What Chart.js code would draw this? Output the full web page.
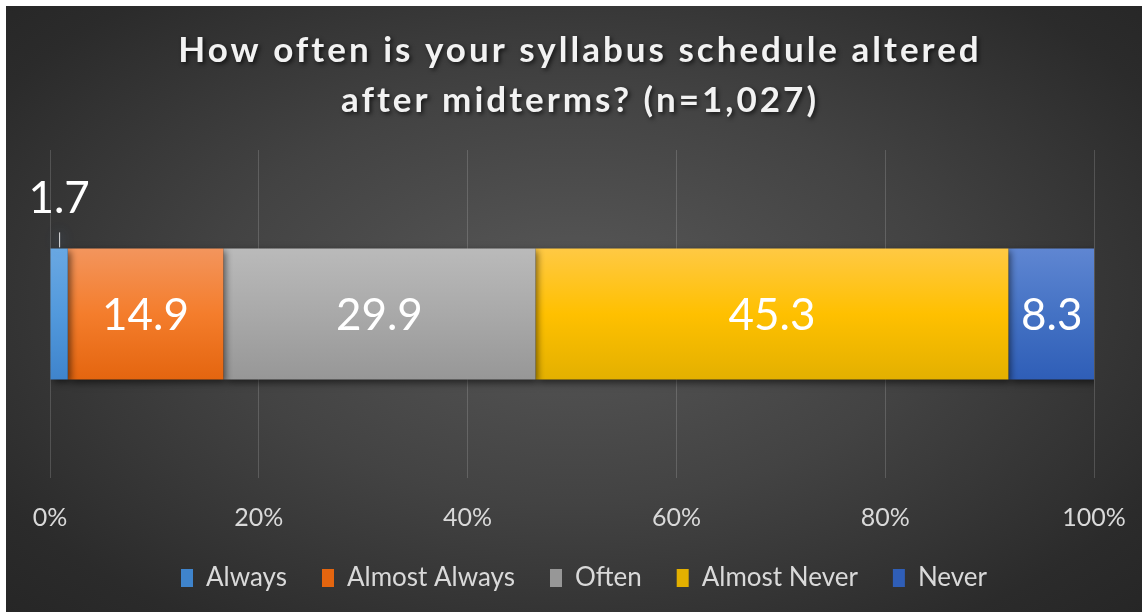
<!DOCTYPE html>
<html lang="en">
<head>
    <meta charset="UTF-8">
    <title>Syllabus Schedule</title>
    <script src="https://cdn.jsdelivr.net/npm/chart.js"></script>
    <style>
        html, body { margin: 0; padding: 0; background: #ffffff; }
        #wrap {
            position: absolute; left: 6px; top: 6px; width: 1136px; height: 606px;
            background: radial-gradient(ellipse 70% 75% at 50% 48%, #585858 0%, #434343 45%, #2b2b2b 85%, #262626 100%);
        }
    </style>
</head>
<body>
    <div id="wrap"><canvas id="chart" width="1136" height="606"></canvas></div>

    <script>
        // data
        const categories = ['All respondents'];
        const seriesNames = ['Always', 'Almost Always', 'Often', 'Almost Never', 'Never'];
        const seriesValues = [1.7, 14.9, 29.9, 45.3, 8.3];
        const titleLines = ['How often is your syllabus schedule altered', 'after midterms? (n=1,027)'];

        const FONT = 'Lato, "Open Sans", sans-serif';

        // top / middle / bottom shades for each segment
        const shades = [
            ['#6aa8e2', '#5299dc', '#3f84cc'],
            ['#f3955d', '#f47d2c', '#e4650f'],
            ['#bababa', '#a9a9a9', '#979797'],
            ['#ffc944', '#ffc000', '#e3b000'],
            ['#5f86d2', '#4472c4', '#2f5eb7']
        ];

        function barFill(i) {
            return (ctx) => {
                const chart = ctx.chart;
                const area = chart.chartArea;
                if (!area) return shades[i][1];
                const h = (area.bottom - area.top) * 0.4;
                const mid = (area.top + area.bottom) / 2;
                const g = chart.ctx.createLinearGradient(0, mid - h / 2, 0, mid + h / 2);
                g.addColorStop(0, shades[i][0]);
                g.addColorStop(0.5, shades[i][1]);
                g.addColorStop(1, shades[i][2]);
                return g;
            };
        }

        // spaced-out title with a soft shadow
        const spacedTitle = {
            id: 'spacedTitle',
            afterLayout(chart) {
                // legend sits a little right of centre in the original
                chart.legend.left += 12;
                chart.legend.right += 12;
            },
            afterDraw(chart) {
                const c = chart.ctx;
                c.save();
                c.font = 'bold 35px ' + FONT;
                c.letterSpacing = '3px';
                c.fillStyle = '#f2f2f2';
                c.textAlign = 'center';
                c.textBaseline = 'middle';
                c.shadowColor = 'rgba(0,0,0,0.65)';
                c.shadowBlur = 4;
                c.shadowOffsetX = 2;
                c.shadowOffsetY = 2;
                titleLines.forEach((line, k) => {
                    c.fillText(line, 574, 45 + k * 50);
                });
                c.restore();
            }
        };

        const barLook = {
            id: 'barLook',
            beforeDatasetsDraw(chart) {
                const c = chart.ctx;
                c.save();
                c.shadowColor = 'rgba(0,0,0,0.55)';
                c.shadowBlur = 7;
                c.shadowOffsetX = 3;
                c.shadowOffsetY = 3;
            },
            afterDatasetsDraw(chart) {
                const c = chart.ctx;
                c.restore();
                c.save();
                c.fillStyle = '#ffffff';
                c.textAlign = 'center';
                c.textBaseline = 'middle';
                c.font = '44px ' + FONT;
                chart.data.datasets.forEach((ds, i) => {
                    const el = chart.getDatasetMeta(i).data[0];
                    if (!el) return;
                    const cx = (el.x + el.base) / 2;
                    const w = Math.abs(el.x - el.base);
                    const top = el.y - el.height / 2;
                    const txt = ds.data[0].toFixed(1);
                    if (w < 40) {
                        c.fillText(txt, cx, top - 50);
                        c.save();
                        c.strokeStyle = 'rgba(255,255,255,0.85)';
                        c.lineWidth = 1;
                        c.shadowColor = 'rgba(80,150,230,0.9)';
                        c.shadowBlur = 12;
                        c.beginPath();
                        c.moveTo(cx + 0.5, top - 16);
                        c.lineTo(cx + 0.5, top - 1);
                        c.stroke();
                        c.restore();
                    } else {
                        c.fillText(txt, cx, el.y + 2);
                    }
                });
                c.restore();
            }
        };

        new Chart(document.getElementById('chart'), {
            type: 'bar',
            data: {
                labels: categories,
                datasets: seriesNames.map((name, i) => ({
                    label: name,
                    data: [seriesValues[i]],
                    backgroundColor: barFill(i),
                    borderWidth: 0,
                    barPercentage: 0.4,
                    categoryPercentage: 1
                }))
            },
            options: {
                indexAxis: 'y',
                responsive: false,
                animation: false,
                layout: { padding: { left: 44, right: 48, top: 144, bottom: 11 } },
                plugins: {
                    title: { display: false },
                    legend: {
                        position: 'bottom',
                        labels: {
                            color: '#d9d9d9',
                            font: { family: FONT, size: 26 },
                            boxWidth: 12,
                            boxHeight: 18,
                            padding: 35
                        }
                    },
                    tooltip: { enabled: false }
                },
                scales: {
                    x: {
                        stacked: true,
                        min: 0,
                        max: 100,
                        afterFit: (scale) => {
                            scale.height = 52;
                            scale.paddingLeft = 0;
                            scale.paddingRight = 0;
                        },
                        ticks: {
                            stepSize: 20,
                            color: '#d9d9d9',
                            font: { family: FONT, size: 25 },
                            padding: 25,
                            callback: (v) => v + '%'
                        },
                        grid: { color: 'rgba(255,255,255,0.16)', drawTicks: false },
                        border: { display: false }
                    },
                    y: {
                        stacked: true,
                        display: false
                    }
                }
            },
            plugins: [barLook, spacedTitle]
        });
    </script>
</body>
</html>
